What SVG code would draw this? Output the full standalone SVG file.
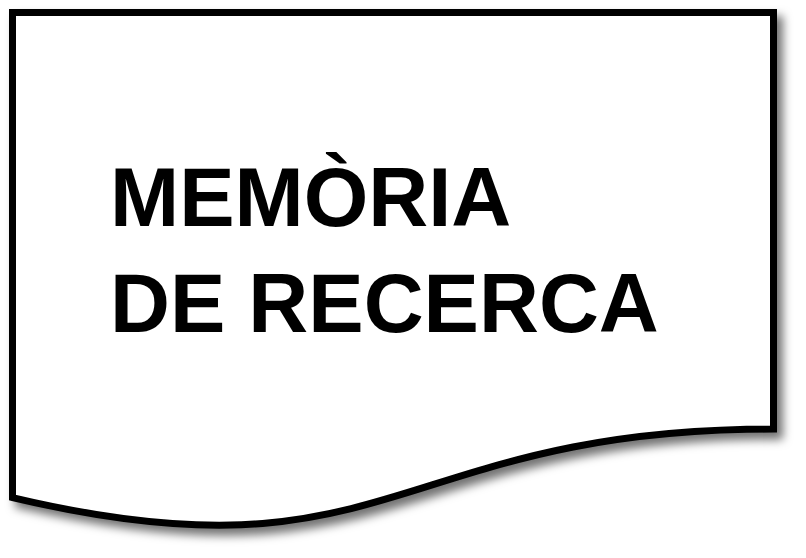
<svg xmlns="http://www.w3.org/2000/svg" width="806" height="558" viewBox="0 0 806 558">
<defs>
<filter id="sh" x="-10%" y="-10%" width="130%" height="130%">
<feDropShadow dx="6" dy="7" stdDeviation="5" flood-color="#000" flood-opacity="0.55"/>
</filter>
<style>
.doc{fill:#fff;stroke:#000;stroke-width:7;stroke-linejoin:miter}
.t{font-family:"Liberation Sans",Arial,sans-serif;font-weight:bold;font-size:83px;fill:#000}
</style>
</defs>
<g id="node-document">
<path class="doc" filter="url(#sh)" d="M12.5,12.5 H773.5 V429 C393,429 393,587.7 12.5,497.6 Z"/>
<text class="t" x="110" y="226">MEMÒRIA</text>
<text class="t" x="110" y="332">DE RECERCA</text>
</g>
<g id="connectors"/>
</svg>
